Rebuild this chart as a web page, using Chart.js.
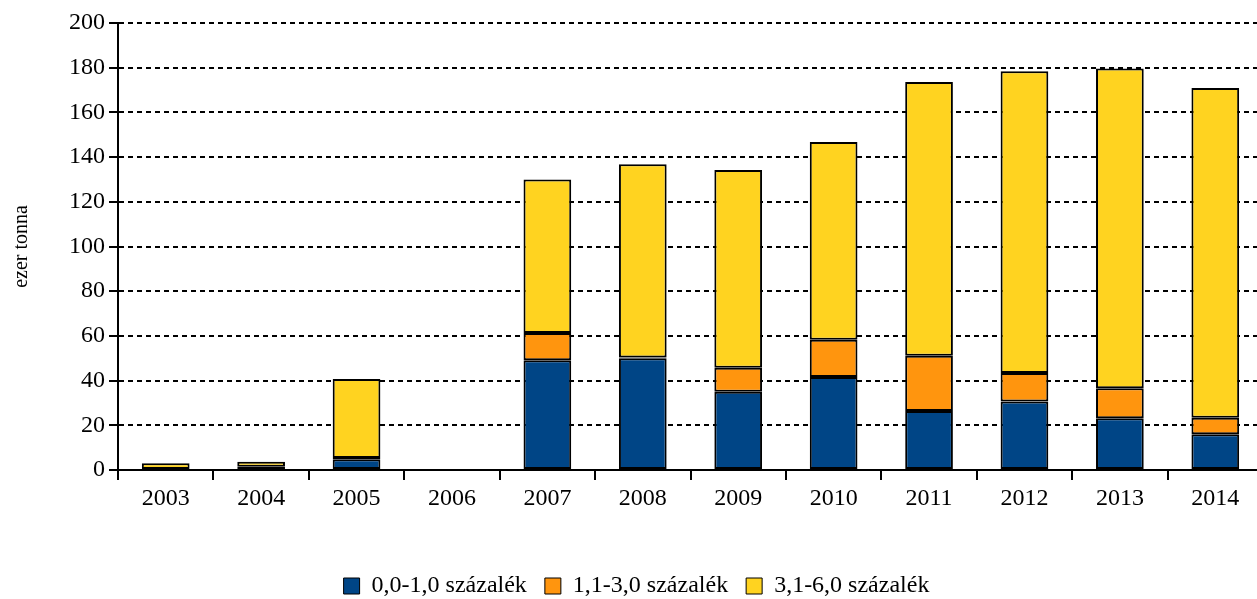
<!DOCTYPE html>
<html>
<head>
<meta charset="utf-8">
<script src="https://cdn.jsdelivr.net/npm/chart.js@4.4.1/dist/chart.umd.min.js"></script>
<style>
	html, body { margin: 0; padding: 0; background: #fff; overflow: hidden; }
	#wrap { width: 1263px; height: 599px; position: relative; }
</style>
</head>
<body>
<div id="wrap"><canvas id="miGrafico"></canvas></div>
<script>
const evek = ["2003", "2004", "2005", "2006", "2007", "2008", "2009", "2010", "2011", "2012", "2013", "2014"];
const sor1 = [null, null, 4.8, null, 49.1, 50.0, 35.0, 41.6, 26.4, 30.7, 23.1, 16.0];
const sor2 = [null, 1.5, 0.6, null, 12.2, 0.3, 10.8, 16.7, 24.7, 12.7, 13.5, 7.4];
const sor3 = [3.0, 2.2, 35.3, null, 68.7, 86.5, 88.4, 88.5, 122.5, 135.0, 143.0, 147.5];
const sorNevek = ["0,0-1,0 százalék", "1,1-3,0 százalék", "3,1-6,0 százalék"];
const szinek = ["#004586", "#ff950e", "#ffd320"];

const betu = "'Liberation Serif', 'Times New Roman', serif";

function initGrafico() {
	const ctx = document.getElementById("miGrafico");
	const adatok = [sor1, sor2, sor3];

	new Chart(ctx, {
		type: "bar",
		data: {
			labels: evek,
			datasets: adatok.map((d, i) => ({
				label: sorNevek[i],
				data: d,
				backgroundColor: szinek[i],
				borderColor: "#000",
				borderWidth: 2,
				borderSkipped: false,
				categoryPercentage: 1,
				barPercentage: 0.5,
			})),
		},
		options: {
			responsive: true,
			maintainAspectRatio: false,
			animation: false,
			layout: { padding: { top: 23, left: 10, right: 0, bottom: -9 } },
			plugins: {
				tooltip: { enabled: false },
				legend: {
					position: "bottom",
					labels: {
						font: { family: betu, size: 24 },
						color: "#000",
						boxWidth: 16,
						boxHeight: 16,
						padding: 18,
						generateLabels: (chart) =>
							chart.data.datasets.map((ds, i) => ({
								text: ds.label,
								fillStyle: ds.backgroundColor,
								strokeStyle: "#000",
								lineWidth: 1,
								datasetIndex: i,
							})),
					},
				},
			},
			scales: {
				x: {
					stacked: true,
					grid: {
						offset: true,
						drawOnChartArea: false,
						drawTicks: true,
						tickLength: 10,
						color: "#000",
						lineWidth: 2,
					},
					border: { color: "#000", width: 2 },
					ticks: {
						font: { family: betu, size: 24 },
						color: "#000",
						padding: 4,
					},
					afterFit: (axis) => {
						axis.height = 86;
					},
				},
				y: {
					stacked: true,
					min: 0,
					max: 200,
					grid: {
						color: "#000",
						lineWidth: 2,
						tickLength: 9,
						tickColor: "#000",
						tickBorderDash: [],
					},
					border: { color: "#000", width: 2, dash: [5, 4] },
					ticks: {
						stepSize: 20,
						font: { family: betu, size: 24 },
						color: "#000",
						padding: 4,
					},
					title: {
						display: true,
						text: "ezer tonna",
						font: { family: betu, size: 20 },
						color: "#000",
						padding: { top: 0, bottom: 31 },
					},
				},
			},
		},
	});
}

initGrafico();
</script>
</body>
</html>
